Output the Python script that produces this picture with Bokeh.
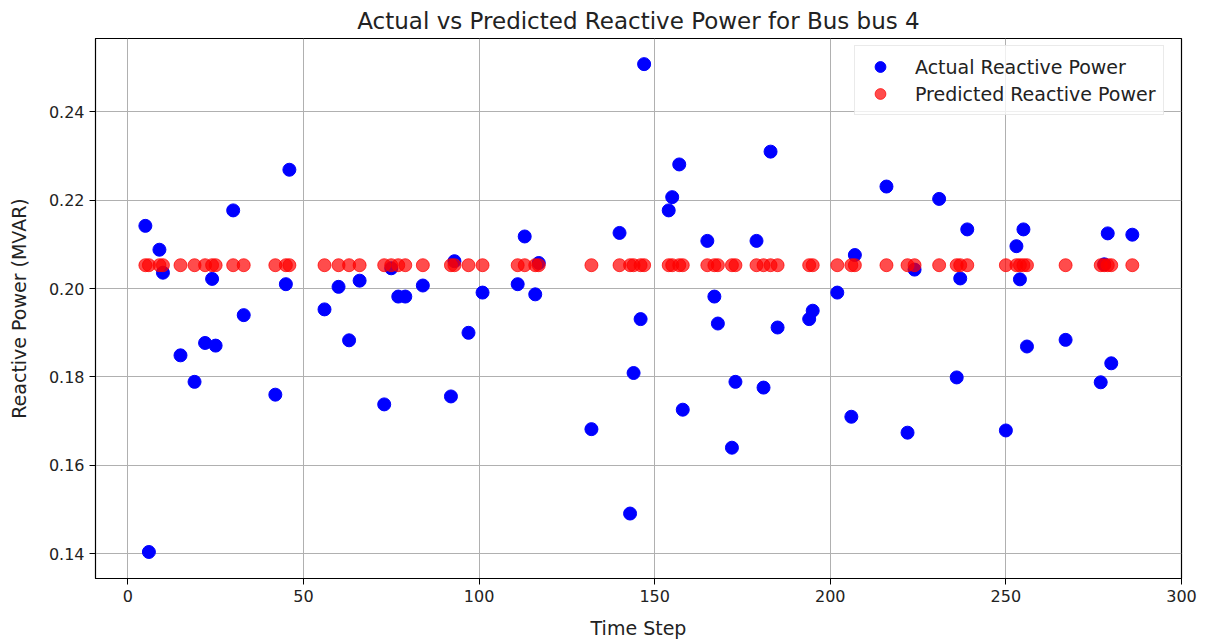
from bokeh.plotting import figure
from bokeh.models import (ColumnDataSource, FixedTicker, Range1d, Legend, LegendItem,
                          PrintfTickFormatter)
from bokeh.embed import file_html
from bokeh.resources import INLINE

# Time steps of the test samples
time_step = [5, 6, 9, 10, 15, 19, 22, 24, 25, 30,
             33, 42, 45, 46, 56, 60, 63, 66, 73, 75,
             77, 79, 84, 92, 93, 97, 101, 111, 113, 116,
             117, 132, 140, 143, 144, 146, 147, 154, 155, 157,
             158, 165, 167, 168, 172, 173, 179, 181, 183, 185,
             194, 195, 202, 206, 207, 216, 222, 224, 231, 236,
             237, 239, 250, 253, 254, 255, 256, 267, 277, 278,
             279, 280, 286]

# Actual reactive power (MVAR)
actual_q = [0.2142, 0.1404, 0.2088, 0.2036, 0.1849, 0.1789, 0.1877, 0.2022, 0.1871, 0.2177,
            0.1940, 0.1760, 0.2010, 0.2269, 0.1953, 0.2004, 0.1883, 0.2018, 0.1738, 0.2046,
            0.1982, 0.1982, 0.2007, 0.1756, 0.2062, 0.1900, 0.1991, 0.2010, 0.2118, 0.1987,
            0.2058, 0.1682, 0.2126, 0.1491, 0.1809, 0.1931, 0.2508, 0.2177, 0.2207, 0.2281,
            0.1726, 0.2108, 0.1982, 0.1921, 0.1640, 0.1789, 0.2108, 0.1776, 0.2310, 0.1912,
            0.1931, 0.1950, 0.1991, 0.1710, 0.2076, 0.2231, 0.1674, 0.2043, 0.2203, 0.1799,
            0.2023, 0.2134, 0.1679, 0.2096, 0.2021, 0.2134, 0.1869, 0.1884, 0.1788, 0.2055,
            0.2125, 0.1831, 0.2122]

# Predicted reactive power (MVAR)
predicted_q = [0.2053, 0.2053, 0.2053, 0.2053, 0.2053, 0.2053, 0.2053, 0.2053, 0.2053, 0.2053,
               0.2053, 0.2053, 0.2053, 0.2053, 0.2053, 0.2053, 0.2053, 0.2053, 0.2053, 0.2053,
               0.2053, 0.2053, 0.2053, 0.2053, 0.2053, 0.2053, 0.2053, 0.2053, 0.2053, 0.2053,
               0.2053, 0.2053, 0.2053, 0.2053, 0.2053, 0.2053, 0.2053, 0.2053, 0.2053, 0.2053,
               0.2053, 0.2053, 0.2053, 0.2053, 0.2053, 0.2053, 0.2053, 0.2053, 0.2053, 0.2053,
               0.2053, 0.2053, 0.2053, 0.2053, 0.2053, 0.2053, 0.2053, 0.2053, 0.2053, 0.2053,
               0.2053, 0.2053, 0.2053, 0.2053, 0.2053, 0.2053, 0.2053, 0.2053, 0.2053, 0.2053,
               0.2053, 0.2053, 0.2053]

x_ticks = [0, 50, 100, 150, 200, 250, 300]
y_ticks = [0.14, 0.16, 0.18, 0.20, 0.22, 0.24]

source = ColumnDataSource(dict(t=time_step, actual=actual_q, predicted=predicted_q))

FONT = "DejaVu Sans"
TXT = "#222222"

p = figure(frame_width=1086, frame_height=540, output_backend="svg", toolbar_location=None,
           x_range=Range1d(-9.2, 300.0), y_range=Range1d(0.1344, 0.2566),
           min_border_left=95, min_border_right=16, min_border_top=32, min_border_bottom=64,
           title="Actual vs Predicted Reactive Power for Bus bus 4")

p.title.align = "center"
p.title.text_font = FONT
p.title.text_font_size = "23px"
p.title.text_font_style = "normal"
p.title.text_color = TXT

p.outline_line_color = "black"
p.outline_line_width = 1.2

for ax in (p.xaxis, p.yaxis):
    ax.axis_line_color = "black"
    ax.major_tick_line_color = "black"
    ax.major_tick_out = 6
    ax.major_tick_in = 0
    ax.minor_tick_line_color = None
    ax.major_label_text_font = FONT
    ax.major_label_text_font_size = "16px"
    ax.major_label_text_color = TXT
    ax.axis_label_text_font = FONT
    ax.axis_label_text_font_size = "19px"
    ax.axis_label_text_font_style = "normal"
    ax.axis_label_text_color = TXT

p.xaxis.ticker = FixedTicker(ticks=x_ticks)
p.yaxis.ticker = FixedTicker(ticks=y_ticks)
p.yaxis.formatter = PrintfTickFormatter(format="%.2f")
p.xaxis.axis_label = "Time Step"
p.yaxis.axis_label = "Reactive Power (MVAR)"
p.xaxis.axis_label_standoff = 12
p.yaxis.axis_label_standoff = 16

p.grid.grid_line_color = "#b0b0b0"
p.grid.grid_line_width = 1

r_act = p.scatter("t", "actual", source=source, size=13, fill_color="blue", line_color="blue")
r_pred = p.scatter("t", "predicted", source=source, size=13, fill_color="red", fill_alpha=0.7,
                   line_color="red", line_alpha=0.7)

legend = Legend(items=[LegendItem(label="Actual Reactive Power", renderers=[r_act]),
                       LegendItem(label="Predicted Reactive Power", renderers=[r_pred])],
                location=(759, 463))
legend.label_text_font = FONT
legend.label_text_font_size = "19px"
legend.label_text_color = TXT
legend.glyph_width = 36
legend.glyph_height = 27
legend.spacing = 0
legend.padding = 7
legend.label_standoff = 17
legend.border_line_color = "#d5d5d5"
legend.border_line_width = 1
legend.background_fill_alpha = 0.8
legend.margin = 0
p.add_layout(legend)

open("out.html", "w").write(file_html(p, INLINE))
